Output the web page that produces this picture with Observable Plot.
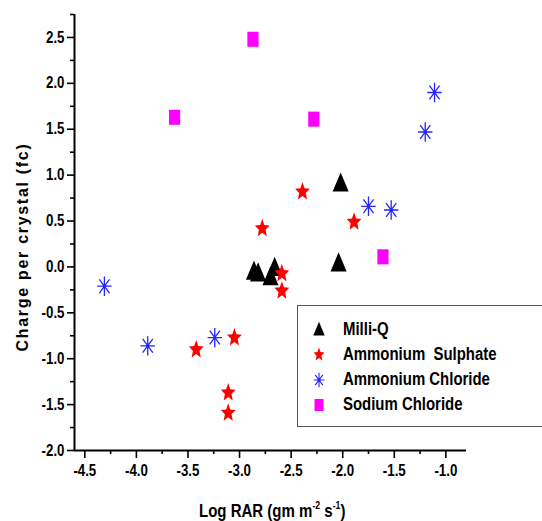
<!DOCTYPE html>
<html>
<head>
<meta charset="utf-8">
<script src="https://cdn.jsdelivr.net/npm/d3@7"></script>
<script src="https://cdn.jsdelivr.net/npm/@observablehq/plot@0.6"></script>
<style>
  html, body { margin: 0; padding: 0; background: #fff; overflow: hidden; }
  #wrap { position: relative; width: 542px; height: 521px; font-family: 'Liberation Sans', Arial, sans-serif; font-weight: bold; color: #000; }
  #ylab { position: absolute; left: 23px; top: 247px; transform: translate(-50%, -50%) rotate(-90deg); white-space: nowrap; font-size: 16px; letter-spacing: 1.7px; }
  #xlab { position: absolute; left: 199px; top: 501px; transform: scaleX(0.79); transform-origin: 0 0; white-space: nowrap; font-size: 19px; line-height: 19px; }
  #xlab sup { font-size: 11px; vertical-align: 8px; line-height: 0; }
  #legend { position: absolute; left: 297px; top: 305px; width: 260px; height: 120px; border: 1.5px solid #555; background: #fff; }
  .lrow { position: absolute; left: 10px; height: 24px; display: flex; align-items: center; white-space: pre; }
  .lrow span { font-size: 18px; display: inline-block; transform: scaleX(0.83); transform-origin: 0 50%; }
  .lrow svg { margin-right: 13px; }
</style>
</head>
<body>
<div id="wrap">
  <div id="chart"></div>
  <div id="ylab">Charge per crystal (fc)</div>
  <div id="xlab">Log RAR (gm m<sup>-2</sup> s<sup>-1</sup>)</div>
  <div id="legend"></div>
</div>
<script>
// ---- data ----
const seriesNames = ["Milli-Q", "Ammonium  Sulphate", "Ammonium Chloride", "Sodium Chloride"];

const milliQX = [-2.02, -2.04, -2.86, -2.82, -2.70, -2.66];
const milliQY = [0.92, 0.05, -0.04, -0.06, -0.10, 0.00];

const sulphateX = [-2.39, -2.78, -1.89, -2.59, -2.59, -3.42, -3.05, -3.11, -3.11];
const sulphateY = [0.83, 0.43, 0.50, -0.06, -0.25, -0.89, -0.76, -1.36, -1.58];

const chlorideX = [-1.11, -1.20, -1.75, -1.53, -4.31, -3.89, -3.24];
const chlorideY = [1.90, 1.47, 0.66, 0.62, -0.21, -0.86, -0.77];

const sodiumX = [-2.87, -3.63, -2.28, -1.61];
const sodiumY = [2.48, 1.63, 1.61, 0.11];

const xMajorTicks = [-4.5, -4.0, -3.5, -3.0, -2.5, -2.0, -1.5, -1.0];
const xMinorTicks = [-4.25, -3.75, -3.25, -2.75, -2.25, -1.75, -1.25];
const yMajorTicks = [-2.0, -1.5, -1.0, -0.5, 0.0, 0.5, 1.0, 1.5, 2.0, 2.5];
const yMinorTicks = [-1.75, -1.25, -0.75, -0.25, 0.25, 0.75, 1.25, 1.75, 2.25, 2.75];

const xDomain = [-4.6, -0.8];
const yDomain = [-2.0, 2.75];

// ---- symbols (slightly narrow, like the reference) ----
const rOf = size => Math.sqrt(size / Math.PI);
const triSym = { draw(ctx, size) { const r = rOf(size);
  ctx.moveTo(0, -1.38 * r); ctx.lineTo(1.1 * r, 1.25 * r); ctx.lineTo(-1.1 * r, 1.25 * r); ctx.closePath(); } };
const rectSym = { draw(ctx, size) { const r = rOf(size);
  const w = 1.6 * r, h = 2.15 * r; ctx.rect(-w / 2, -h / 2, w, h); } };
const starSym = { draw(ctx, size) { const R = rOf(size) * 1.38, ri = R * 0.45, sx = 0.8;
  for (let i = 0; i < 10; i++) { const a = -Math.PI / 2 + i * Math.PI / 5; const rr = i % 2 ? ri : R;
    const px = sx * rr * Math.cos(a), py = rr * Math.sin(a) + 0.1 * R; if (i) ctx.lineTo(px, py); else ctx.moveTo(px, py); }
  ctx.closePath(); } };
const astSym = { draw(ctx, size) { const R = rOf(size) * 1.35, sx = 0.74;
  for (let i = 0; i < 4; i++) { const a = i * Math.PI / 4; const dx = sx * R * Math.cos(a), dy = R * Math.sin(a);
    ctx.moveTo(-dx, -dy); ctx.lineTo(dx, dy); }
  ctx.moveTo(1.3, 0); ctx.arc(0, 0, 1.3, 0, 2 * Math.PI); } };

const rows = (xs, ys) => xs.map((x, i) => ({x, y: ys[i]}));
const fmt = d => d.toFixed(1);

const chart = Plot.plot({
  width: 542,
  height: 495,
  marginLeft: 74,
  marginRight: 76,
  marginTop: 14,
  marginBottom: 45,
  x: {domain: xDomain},
  y: {domain: yDomain},
  style: {fontFamily: "'Liberation Sans', Arial, sans-serif", fontWeight: "bold", fontSize: "16px", color: "#000", background: "#fff"},
  marks: [
    Plot.axisY(yMajorTicks, {tickSize: 7, tickPadding: 3, tickFormat: fmt, strokeWidth: 1.6, label: null, fontSize: 16, fontWeight: "bold"}),
    Plot.axisY(yMinorTicks, {tickSize: 4, tickFormat: () => "", strokeWidth: 1.6, label: null}),
    Plot.axisX(xMajorTicks, {tickSize: 8, tickPadding: 6, tickFormat: fmt, strokeWidth: 1.6, label: null, fontSize: 16, fontWeight: "bold"}),
    Plot.axisX(xMinorTicks, {tickSize: 4, tickFormat: () => "", strokeWidth: 1.6, label: null}),
    Plot.ruleX([xDomain[0]], {stroke: "#000", strokeWidth: 2}),
    Plot.ruleY([yDomain[0]], {stroke: "#000", strokeWidth: 2}),
    Plot.dot(rows(sodiumX, sodiumY), {x: "x", y: "y", symbol: rectSym, r: 7, fill: "#ff00ff", stroke: "none"}),
    Plot.dot(rows(milliQX, milliQY), {x: "x", y: "y", symbol: triSym, r: 7.3, fill: "#000", stroke: "none"}),
    Plot.dot(rows(sulphateX, sulphateY), {x: "x", y: "y", symbol: starSym, r: 7, fill: "#ff0000", stroke: "none"}),
    Plot.dot(rows(chlorideX, chlorideY), {x: "x", y: "y", symbol: astSym, r: 7.2, fill: "none", stroke: "#2525ff", strokeWidth: 1.3})
  ]
});
document.getElementById("chart").appendChild(chart);

// condense tick labels horizontally (no narrow font installed)
chart.querySelectorAll('g[aria-label$="tick label"] text').forEach(t => {
  const len = t.getComputedTextLength();
  if (len > 0) {
    t.setAttribute("textLength", (len * 0.83).toFixed(2));
    t.setAttribute("lengthAdjust", "spacingAndGlyphs");
  }
});

// ---- legend ----
const legendSpecs = [
  {sym: triSym, r: 5.2, fill: "#000", stroke: "none", sw: 0},
  {sym: starSym, r: 5.2, fill: "#ff0000", stroke: "none", sw: 0},
  {sym: astSym, r: 5.4, fill: "none", stroke: "#2525ff", sw: 1.1},
  {sym: rectSym, r: 5.6, fill: "#ff00ff", stroke: "none", sw: 0}
];
const legend = document.getElementById("legend");
seriesNames.forEach((name, i) => {
  const spec = legendSpecs[i];
  const row = document.createElement("div");
  row.className = "lrow";
  row.style.top = (11 + i * 25.3) + "px";
  const path = d3.path();
  spec.sym.draw(path, spec.r * spec.r * Math.PI);
  row.innerHTML = `<svg width="22" height="22" viewBox="-11 -11 22 22"><path d="${path.toString()}" fill="${spec.fill}" stroke="${spec.stroke}" stroke-width="${spec.sw}"/></svg><span>${name}</span>`;
  legend.appendChild(row);
});
</script>
</body>
</html>
